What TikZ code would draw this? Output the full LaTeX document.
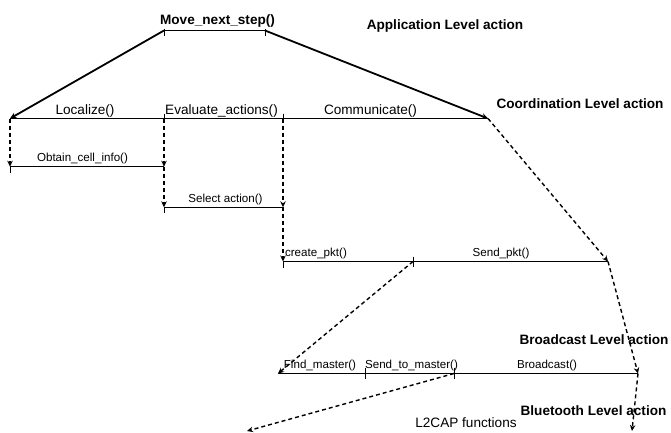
\documentclass[tikz,border=0pt]{standalone}
\usepackage{fontspec}
\setmainfont{Liberation Sans}
\usetikzlibrary{arrows.meta}
\begin{document}
\begin{tikzpicture}[x=1pt,y=-1pt,
  lbl/.style={inner sep=0pt, anchor=base, font=\fontsize{13.6}{16}\selectfont},
  slbl/.style={inner sep=0pt, anchor=base, font=\fontsize{11.6}{14}\selectfont},
  lvl/.style={inner sep=0pt, anchor=base, font=\fontsize{13.6}{16}\selectfont\bfseries},
  call/.style={line width=1.8pt, -{Stealth[length=6.5pt,width=6pt]}},
  flow/.style={line width=1.4pt, dash pattern=on 4pt off 3pt, -{Stealth[length=6pt,width=5.5pt]}},
  seq/.style={line width=0.9pt},
  tickmark/.style={line width=0.9pt}]
\useasboundingbox (0,0) rectangle (671,432);

% call points on each level
\coordinate (mA) at (164,30.5);
\coordinate (mB) at (265,30.5);
\coordinate (c0) at (10,118.5);
\coordinate (c1) at (164,118.5);
\coordinate (c2) at (283,118.5);
\coordinate (c3) at (488,118.5);
\coordinate (o0) at (10,166.7);
\coordinate (o1) at (164,166.7);
\coordinate (s1) at (164,207.3);
\coordinate (s2) at (283,207.3);
\coordinate (p2) at (283,261.5);
\coordinate (p3) at (413,261.5);
\coordinate (p4) at (608,261.5);
\coordinate (b0) at (278,373.5);
\coordinate (b1) at (365,373.5);
\coordinate (b2) at (454,373.5);
\coordinate (b3) at (638,373.5);
\coordinate (l2) at (247,431);
\coordinate (bt) at (632,431);

% level titles
\node[lvl] (tApp) at (445,29.5) {Application Level action};
\node[lvl] (tCoord) at (580,108) {Coordination Level action};
\node[lvl] (tBcast) at (594,344) {Broadcast Level action};
\node[lvl] (tBt) at (593.5,415) {Bluetooth Level action};

% function labels
\node[lvl] (fMove) at (217.5,24.5) {Move\_next\_step()};
\node[lbl] (fLoc) at (85,114) {Localize()};
\node[lbl] (fEval) at (221.5,114) {Evaluate\_actions()};
\node[lbl] (fComm) at (370.5,114) {Communicate()};
\node[slbl] (fObt) at (82.5,161.5) {Obtain\_cell\_info()};
\node[slbl] (fSel) at (225.5,202.5) {Select action()};
\node[slbl] (fCre) at (316,256) {create\_pkt()};
\node[slbl] (fSend) at (501,256) {Send\_pkt()};
\node[slbl] (fFind) at (320,368) {Find\_master()};
\node[slbl] (fStm) at (411.5,368) {Send\_to\_master()};
\node[slbl] (fBc) at (547,368) {Broadcast()};
\node[lbl] (fL2) at (466,427) {L2CAP functions};

% sequence lines
\draw[seq] (mA) -- (mB);
\draw[seq] (c0) -- (c3);
\draw[seq] (o0) -- (o1);
\draw[seq] (s1) -- (s2);
\draw[seq] (p2) -- (p4);
\draw[seq] (b0) -- (b3);

% tick marks
\draw[tickmark] (mA) ++(0,-2) -- ++(0,7);
\draw[tickmark] (mB) ++(0,-2) -- ++(0,7);
\draw[tickmark] (c1) ++(0,-5) -- ++(0,6);
\draw[tickmark] (c2) ++(0,-5) -- ++(0,6);
\draw[tickmark] (o0) -- ++(0,6);
\draw[tickmark] (s1) -- ++(0,6);
\draw[tickmark] (p2) -- ++(0,6);
\draw[tickmark] (p3) ++(0,-5) -- ++(0,10);
\draw[tickmark] (b1) ++(0,-6) -- ++(0,11);
\draw[tickmark] (b2) ++(0,-6) -- ++(0,11);

% decomposition calls
\draw[call] (mA) -- (c0);
\draw[call] (mB) -- (c3);

% control flow
\draw[flow] (c0) -- (o0);
\draw[flow] (c1) -- (o1);
\draw[flow] (o1) -- (s1);
\draw[flow] (c2) -- (s2);
\draw[flow] (s2) -- (p2);
\draw[flow] (c3) -- (p4);
\draw[flow] (p3) -- (b0);
\draw[flow] (p4) -- (b3);
\draw[flow] (b3) -- (bt);
\draw[flow] (b2) -- (l2);
\end{tikzpicture}
\end{document}
